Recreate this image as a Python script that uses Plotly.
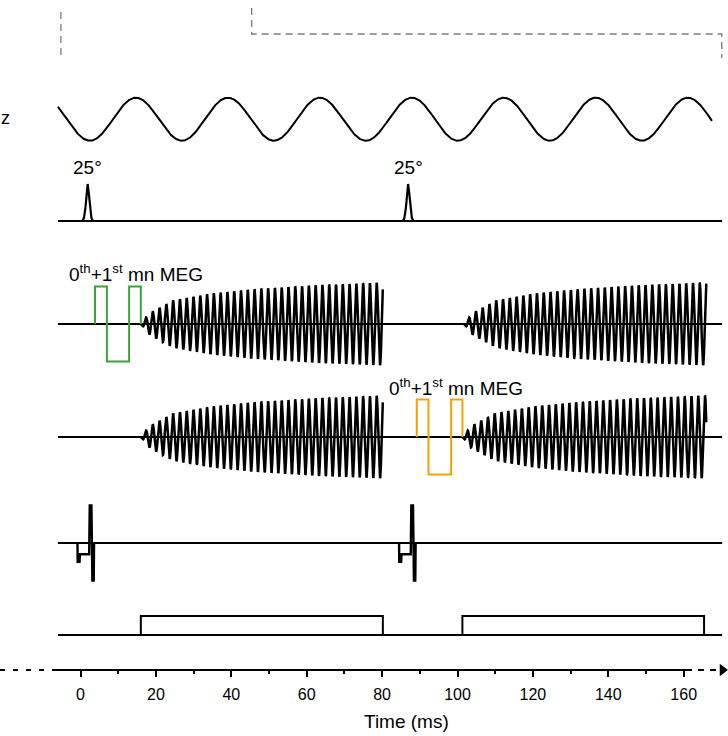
import numpy as np
import plotly.graph_objects as go

# ---------------- data (times in ms) ----------------
tick_vals = [0, 20, 40, 60, 80, 100, 120, 140, 160]
tick_labels = ["0", "20", "40", "60", "80", "100", "120", "140", "160"]
minor_tick_vals = [10, 30, 50, 70, 90, 110, 130, 150]

trace_span = [-6.0, 170.2]          # start / end of every channel baseline

trig_times = [-5.2, 45.4, 170.1]     # grey dashed trigger line

vib_span = [-6.0, 167.5]             # mechanical vibration
vib_period = 24.4
vib_peak = 14.7

rf_times = [1.9, 86.9]
rf_flip = ["25°", "25°"]
rf_shape_t = [-1.4, -1.0, -0.6, -0.3, 0.0, 0.3, 0.6, 1.0, 1.4]
rf_shape_v = [0.0, 0.08, 0.35, 0.75, 1.0, 0.75, 0.35, 0.08, 0.0]

meg1_edges = [3.85, 7.0, 12.9, 16.0]
meg2_edges = [89.2, 92.3, 98.3, 101.3]
meg_lobes = [1, -1, 1]
meg_label = "0<sup>th</sup>+1<sup>st</sup> mn MEG"

echo_row1 = [(16.0, 80.2), (101.7, 166.0)]
echo_row2 = [(16.0, 80.2), (101.3, 166.0)]
echo_period = 1.8
env_tau = [0, 2.4, 8.5, 19, 30, 47, 64]
env_rel = [0.0, 0.27, 0.57, 0.74, 0.84, 0.94, 1.0]

slice_starts = [-0.8, 84.5]
slice_tau = [0, 0.05, 0.55, 0.65, 3.1, 3.25, 3.7, 3.8, 3.95, 4.3, 4.4]
slice_rel = [0, -0.5, -0.5, -0.3, -0.3, 1.0, 1.0, 0.0, -1.0, -1.0, 0.0]

adc_windows = [(16.0, 80.2), (101.3, 165.4)]

# ---------------- layout constants (pixels) ----------------
W, H = 728, 736
PX0, PXS = 80.5, 3.77
T_MIN, T_MAX = -PX0 / PXS, (W - PX0) / PXS


def tx(px):
    return (px - PX0) / PXS


Y_VIB, A_VIB = 119.2, 21.5
Y_RF, A_RF = 221.0, 37.0
Y_R1, Y_R2, A_G, A_E = 324.0, 437.0, 37.5, 41.3
Y_SL, A_SL = 543.0, 37.5
Y_ADC, A_ADC = 635.0, 19.0
Y_AX = 670.0
FONT = "Liberation Sans, Arial, sans-serif"
GREEN, ORANGE, GREY = "#3da336", "#f5a300", "#7a7a7a"

fig = go.Figure()


def add(x, y, color="black", width=2.0, dash=None):
    fig.add_trace(go.Scatter(x=list(x), y=list(y), mode="lines", hoverinfo="skip",
                             line=dict(color=color, width=width, dash=dash),
                             showlegend=False))


# trigger (grey dashed)
add([trig_times[0]] * 2, [12, 55], GREY, 1.3, "7px,5px")
add([trig_times[1], trig_times[1], trig_times[2], trig_times[2]], [8, 34, 34, 58], GREY, 1.3, "7px,5px")

# vibration
tv = np.linspace(vib_span[0], vib_span[1], 1500)
add(tv, Y_VIB - A_VIB * np.cos(2 * np.pi * (tv - vib_peak) / vib_period), width=2.0)

# baselines
for yb in (Y_RF, Y_R1, Y_R2, Y_SL, Y_ADC):
    add(trace_span, [yb, yb], width=2.0)

# RF pulses
for t0 in rf_times:
    add([t0 + s for s in rf_shape_t], [Y_RF - A_RF * v for v in rf_shape_v], width=2.2)


# echoes
def echoes(windows, yb):
    for (a, b) in windows:
        t = np.arange(a, b, 0.015)
        tau = t - a
        env = A_E * np.interp(tau, env_tau, env_rel)
        add(t, yb + env * np.sin(2 * np.pi * tau / echo_period), width=2.5)


echoes(echo_row1, Y_R1)
echoes(echo_row2, Y_R2)


# MEG gradients
def meg(edges, yb, color):
    xs, ys = [edges[0]], [yb]
    for i, s in enumerate(meg_lobes):
        xs += [edges[i], edges[i + 1]]
        ys += [yb - s * A_G, yb - s * A_G]
    xs.append(edges[-1])
    ys.append(yb)
    add(xs, ys, color, 2.0)


meg(meg1_edges, Y_R1, GREEN)
meg(meg2_edges, Y_R2, ORANGE)

# slice gradient
for t0 in slice_starts:
    add([t0 + s for s in slice_tau], [Y_SL - A_SL * v for v in slice_rel], width=2.4)

# ADC
for (a, b) in adc_windows:
    add([a, a, b, b], [Y_ADC, Y_ADC - A_ADC, Y_ADC - A_ADC, Y_ADC], width=2.0)

# time axis line (solid + dashed extensions + arrow)
add([tx(57), tx(686)], [Y_AX, Y_AX], width=2.0)
add([tx(57), tx(0)], [Y_AX, Y_AX], width=2.0, dash="5px,8px")
add([tx(686), tx(718)], [Y_AX, Y_AX], width=2.0, dash="6px,6px")
fig.add_trace(go.Scatter(x=[tx(722.5)], y=[Y_AX], mode="markers", hoverinfo="skip",
                         marker=dict(symbol="triangle-right", size=11, color="black"),
                         showlegend=False))

# annotations
ann = []
for t0, lab in zip(rf_times, rf_flip):
    ann.append(dict(x=t0, y=167, text=lab, showarrow=False, xanchor="center", yanchor="middle",
                    font=dict(size=19, family=FONT, color="black")))
ann.append(dict(x=tx(66.5), y=273, text=meg_label, showarrow=False, xanchor="left", yanchor="middle",
                font=dict(size=19, family=FONT, color="black")))
ann.append(dict(x=tx(386.5), y=387, text=meg_label, showarrow=False, xanchor="left", yanchor="middle",
                font=dict(size=19, family=FONT, color="black")))
ann.append(dict(x=tx(0.5), y=118, text="z", showarrow=False, xanchor="left", yanchor="middle",
                xshift=-2, font=dict(size=18, family=FONT, color="black")))
ann.append(dict(x=tx(406), y=721, text="Time (ms)", showarrow=False, xanchor="center", yanchor="middle",
                font=dict(size=19, family=FONT, color="black")))
fig.update_layout(annotations=ann)

fig.update_layout(
    width=W, height=H, margin=dict(l=0, r=0, t=0, b=0),
    paper_bgcolor="white", plot_bgcolor="white",
    xaxis=dict(range=[T_MIN, T_MAX], domain=[0, 1], anchor="free", position=(H - Y_AX) / H,
               showgrid=False, zeroline=False, showline=False,
               tickmode="array", tickvals=tick_vals, ticktext=tick_labels,
               ticks="outside", ticklen=6, tickwidth=2, tickcolor="black",
               ticklabelstandoff=4,
               tickfont=dict(size=16, family=FONT, color="black"),
               minor=dict(tickmode="array", tickvals=minor_tick_vals, ticks="outside",
                          ticklen=3, tickwidth=2, tickcolor="black", showgrid=False)),
    yaxis=dict(range=[H, 0], domain=[0, 1], visible=False, showgrid=False, zeroline=False),
)

fig.write_html("out.html")
